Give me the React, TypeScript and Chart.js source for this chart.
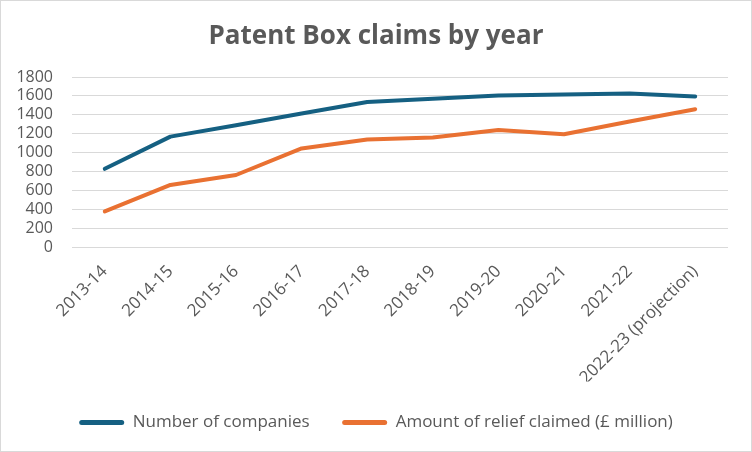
import React, { useEffect, useRef } from "react";
import { Chart, registerables } from "chart.js";

Chart.register(...registerables);

const categories = [
  "2013-14",
  "2014-15",
  "2015-16",
  "2016-17",
  "2017-18",
  "2018-19",
  "2019-20",
  "2020-21",
  "2021-22",
  "2022-23 (projection)",
];
const companies = [830, 1170, 1290, 1415, 1535, 1570, 1605, 1615, 1625, 1595];
const relief = [380, 660, 765, 1045, 1140, 1160, 1240, 1195, 1330, 1460];
const seriesNames = ["Number of companies", "Amount of relief claimed (£ million)"];
const titleText = "Patent Box claims by year";
const yMin = 0;
const yMax = 1800;
const yStep = 200;

const TEXT = "#595959";
const GRID = "#d9d9d9";
const FONT = "'Open Sans', sans-serif";

export default function App() {
  const ref = useRef<HTMLCanvasElement | null>(null);

  useEffect(() => {
    document.body.style.margin = "0";
    const canvas = ref.current;
    if (!canvas) return;
    const chart = new Chart(canvas, {
      type: "line",
      data: {
        labels: categories,
        datasets: [
          {
            label: seriesNames[0],
            data: companies,
            borderColor: "#156082",
            backgroundColor: "#156082",
            borderWidth: 4,
            pointRadius: 0,
            tension: 0,
            borderCapStyle: "round",
            borderJoinStyle: "round",
          },
          {
            label: seriesNames[1],
            data: relief,
            borderColor: "#E97132",
            backgroundColor: "#E97132",
            borderWidth: 4,
            pointRadius: 0,
            tension: 0,
            borderCapStyle: "round",
            borderJoinStyle: "round",
          },
        ],
      },
      options: {
        responsive: false,
        animation: false,
        devicePixelRatio: 1,
        layout: { padding: { left: 12, right: 12, top: 0, bottom: 11.1 } },
        plugins: {
          tooltip: { enabled: false },
          title: {
            display: true,
            text: titleText,
            color: TEXT,
            font: { family: FONT, size: 26, weight: "bold", lineHeight: 1.2 },
            padding: { top: 21, bottom: 24.8 },
          },
          legend: {
            position: "bottom",
            labels: {
              color: TEXT,
              font: { family: FONT, size: 17 },
              boxWidth: 45,
              boxHeight: 5,
              padding: 32.5,
              useBorderRadius: true,
              borderRadius: 2.5,
              generateLabels: (c: any) => {
                const items = Chart.defaults.plugins.legend.labels.generateLabels(c);
                return items.map((it: any) => ({ ...it, fillStyle: it.strokeStyle, lineWidth: 0 }));
              },
            },
          },
        },
        scales: {
          x: {
            offset: true,
            grid: { display: false, drawTicks: false },
            border: { display: false },
            ticks: {
              color: TEXT,
              font: { family: FONT, size: 17 },
              autoSkip: false,
              minRotation: 45,
              maxRotation: 45,
              padding: 14,
            },
            afterFit: (s: any) => {
              s.height = 134;
            },
          },
          y: {
            min: yMin,
            max: yMax,
            grid: { color: GRID, lineWidth: 1, drawTicks: false },
            border: { display: false },
            ticks: {
              stepSize: yStep,
              autoSkip: false,
              color: TEXT,
              font: { family: FONT, size: 16 },
              padding: 19,
              callback: (v: any) => String(v),
            },
            afterFit: (s: any) => {
              s.width = 60;
            },
          },
          yR: {
            position: "right",
            display: true,
            grid: { display: false, drawTicks: false },
            border: { display: false },
            ticks: { display: false },
            afterFit: (s: any) => {
              s.width = 12;
            },
          },
        },
      },
    });
    return () => chart.destroy();
  }, []);

  return (
    <div style={{ position: "relative", width: 752, height: 452 }}>
      <canvas ref={ref} width={752} height={452} style={{ display: "block" }} />
      <div
        style={{
          position: "absolute",
          left: 0,
          top: 0,
          width: 752,
          height: 452,
          boxSizing: "border-box",
          border: `1px solid ${GRID}`,
          pointerEvents: "none",
        }}
      />
    </div>
  );
}
